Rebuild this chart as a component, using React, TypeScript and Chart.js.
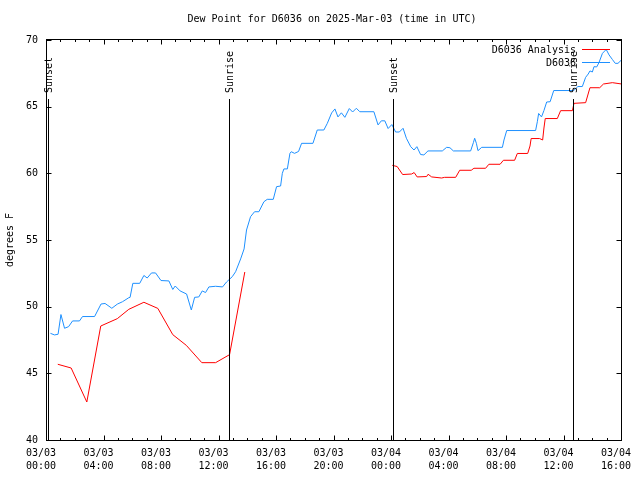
import React, { useEffect, useRef } from 'react';
import { Chart, registerables } from 'chart.js';

Chart.register(...registerables);

const FONT = "'DejaVu Sans Mono', 'Liberation Mono', monospace";

const titleText = 'Dew Point for D6036 on 2025-Mar-03 (time in UTC)';
const yAxisTitle = 'degrees F';
const xTickDates = ['03/03', '03/03', '03/03', '03/03', '03/03', '03/03', '03/04', '03/04', '03/04', '03/04', '03/04'];
const xTickTimes = ['00:00', '04:00', '08:00', '12:00', '16:00', '20:00', '00:00', '04:00', '08:00', '12:00', '16:00'];
const yTickValues = [40, 45, 50, 55, 60, 65, 70];

const sunEventHours = [0.07, 12.65, 24.09, 36.61];
const sunEventLabels = ['Sunset', 'Sunrise', 'Sunset', 'Sunrise'];

const analysisLabel = 'D6036 Analysis';
const analysisHours = [0.75, 1.68, 2.77, 3.74, 4.89, 5.69, 6.74, 7.71, 8.75, 9.69, 10.77, 11.73, 12.70, 13.76, 18,
  24.02, 24.36, 24.74, 25.37, 25.54, 25.75, 26.41, 26.51, 26.76, 27.45, 27.66, 28.43, 28.71, 29.51, 29.70, 30.51,
  30.74, 31.52, 31.75, 32.53, 32.72, 33.44, 33.60, 33.68, 34.27, 34.48, 34.57, 34.66, 35.50, 35.73, 36.55, 36.66,
  37.47, 37.77, 38.45, 38.71, 39.33, 39.98];
const analysisValues = [45.68, 45.40, 42.85, 48.55, 49.10, 49.80, 50.33, 49.87, 47.90, 47.10, 45.80, 45.80, 46.40, 52.60, null,
  60.60, 60.51, 59.91, 59.95, 60.06, 59.73, 59.76, 59.93, 59.73, 59.65, 59.70, 59.70, 60.23, 60.23, 60.38, 60.38,
  60.68, 60.68, 60.98, 60.98, 61.49, 61.49, 62.05, 62.61, 62.61, 62.50, 63.40, 64.11, 64.11, 64.70, 64.70, 65.25,
  65.30, 66.42, 66.42, 66.70, 66.80, 66.70];

const obsLabel = 'D6036';
const obsHours = [0.24, 0.52, 0.77, 0.97, 1.22, 1.50, 1.78, 2.26, 2.47, 3.31,
  3.76, 4.04, 4.51, 4.89, 5.25, 5.69, 5.78, 5.97, 6.45, 6.74,
  6.97, 7.27, 7.55, 7.93, 8.48, 8.75, 8.92, 9.26, 9.71, 10.04,
  10.27, 10.56, 10.80, 11.03, 11.26, 11.73, 12.21, 12.49, 12.89, 13.12,
  13.47, 13.71, 13.88, 14.16, 14.44, 14.74, 15.09, 15.32, 15.74, 15.97,
  16.25, 16.37, 16.48, 16.72, 16.90, 16.99, 17.22, 17.50, 17.71, 18.50,
  18.80, 19.26, 19.50, 19.80, 20.03, 20.24, 20.48, 20.72, 21.03, 21.26,
  21.52, 21.76, 22.74, 23.03, 23.26, 23.50, 23.73, 23.99, 24.25, 24.51,
  24.77, 25.00, 25.30, 25.53, 25.73, 25.99, 26.22, 26.50, 27.50, 27.80,
  28.03, 28.27, 29.47, 29.66, 29.75, 29.87, 29.98, 30.24, 31.68, 31.79,
  31.98, 33.99, 34.11, 34.20, 34.40, 34.57, 34.76, 35.00, 35.25, 36.64,
  36.93, 37.24, 37.47, 37.65, 37.77, 37.94, 38.05, 38.24, 38.40, 38.64,
  38.90, 39.10, 39.33, 39.53, 39.72, 39.96];
const obsValues = [48.00, 47.88, 47.93, 49.41, 48.38, 48.50, 48.93, 48.93, 49.26, 49.26,
  50.20, 50.24, 49.88, 50.19, 50.37, 50.67, 50.70, 51.75, 51.75, 52.34,
  52.15, 52.53, 52.53, 51.96, 51.93, 51.29, 51.55, 51.18, 50.95, 49.75,
  50.70, 50.73, 51.18, 51.06, 51.48, 51.53, 51.48, 51.85, 52.25, 52.62,
  53.58, 54.33, 55.75, 56.75, 57.12, 57.12, 57.87, 58.05, 58.05, 59.00,
  59.05, 60.00, 60.33, 60.33, 61.50, 61.62, 61.50, 61.64, 62.25, 62.25,
  63.25, 63.25, 63.75, 64.53, 64.83, 64.23, 64.54, 64.20, 64.86, 64.60,
  64.88, 64.62, 64.62, 63.63, 63.94, 63.94, 63.36, 63.66, 63.10, 63.10,
  63.38, 62.63, 62.00, 61.75, 62.00, 61.41, 61.38, 61.68, 61.68, 61.95,
  61.92, 61.68, 61.68, 62.30, 62.63, 62.25, 61.70, 61.95, 61.95, 62.50,
  63.21, 63.21, 63.87, 64.49, 64.23, 64.71, 65.35, 65.37, 66.21, 66.21,
  66.51, 66.51, 67.20, 67.45, 67.68, 67.60, 68.00, 67.98, 68.31, 69.00,
  69.29, 68.88, 68.54, 68.25, 68.25, 68.50];

const ANALYSIS_COLOR = '#ff0000';
const OBS_COLOR = '#1e90ff';

const overlayPlugin = {
  id: 'gnuplotOverlay',
  afterDraw(chart: any) {
    const { ctx, chartArea: ca, scales } = chart;
    const xs = scales.x;
    const ys = scales.y;
    const L = Math.round(ca.left) - 0.5;
    const R = Math.round(ca.right) - 0.5;
    const T = Math.round(ca.top) - 0.5;
    const B = Math.round(ca.bottom) + 0.5;
    ctx.save();
    ctx.strokeStyle = '#000';
    ctx.lineWidth = 1;
    // border
    ctx.strokeRect(L, T, R - L, B - T);
    // x ticks (inward, mirrored)
    ctx.beginPath();
    for (let h = 0; h <= 40; h++) {
      const px = Math.round(xs.getPixelForValue(h)) - 0.5;
      const len = h % 4 === 0 ? 5 : 2.5;
      ctx.moveTo(px, B);
      ctx.lineTo(px, B - len);
      ctx.moveTo(px, T);
      ctx.lineTo(px, T + len);
    }
    // y ticks
    yTickValues.forEach((v) => {
      const py = Math.round(ys.getPixelForValue(v)) + 0.5;
      ctx.moveTo(L, py);
      ctx.lineTo(L + 5, py);
      ctx.moveTo(R, py);
      ctx.lineTo(R - 5, py);
    });
    ctx.stroke();

    ctx.fillStyle = '#000';
    ctx.font = `10px ${FONT}`;
    // sun events
    sunEventHours.forEach((h, i) => {
      const px = Math.round(xs.getPixelForValue(h)) + 0.5;
      ctx.beginPath();
      ctx.moveTo(px, 99);
      ctx.lineTo(px, B);
      ctx.stroke();
      ctx.save();
      ctx.translate(px + 0.5, 93);
      ctx.rotate(-Math.PI / 2);
      ctx.textAlign = 'left';
      ctx.textBaseline = 'middle';
      ctx.fillText(sunEventLabels[i], 0, 0);
      ctx.restore();
    });

    // legend
    const legendRows = [
      { label: analysisLabel, color: ANALYSIS_COLOR, y: 49.5 },
      { label: obsLabel, color: OBS_COLOR, y: 62.5 },
    ];
    legendRows.forEach((r) => {
      ctx.textAlign = 'right';
      ctx.textBaseline = 'middle';
      ctx.fillStyle = '#000';
      ctx.fillText(r.label, 576, r.y + 0.5);
      ctx.strokeStyle = r.color;
      ctx.beginPath();
      ctx.moveTo(582, r.y);
      ctx.lineTo(610, r.y);
      ctx.stroke();
    });

    // title
    ctx.fillStyle = '#000';
    ctx.textAlign = 'center';
    ctx.textBaseline = 'middle';
    ctx.fillText(titleText, 332, 19);

    // y axis title
    ctx.save();
    ctx.translate(10, 240);
    ctx.rotate(-Math.PI / 2);
    ctx.fillText(yAxisTitle, 0, 0);
    ctx.restore();

    ctx.restore();
  },
};

export default function App() {
  const canvasRef = useRef<HTMLCanvasElement | null>(null);

  useEffect(() => {
    if (!canvasRef.current) return;
    const tickFont = { family: FONT, size: 10, lineHeight: 1.3 };
    const chart = new Chart(canvasRef.current, {
      type: 'line',
      data: {
        datasets: [
          {
            label: analysisLabel,
            data: analysisHours.map((h, i) => ({ x: h, y: analysisValues[i] })),
            borderColor: ANALYSIS_COLOR,
            backgroundColor: ANALYSIS_COLOR,
            borderWidth: 1,
            pointRadius: 0,
            tension: 0,
            fill: false,
            spanGaps: false,
          },
          {
            label: obsLabel,
            data: obsHours.map((h, i) => ({ x: h, y: obsValues[i] })),
            borderColor: OBS_COLOR,
            backgroundColor: OBS_COLOR,
            borderWidth: 1,
            pointRadius: 0,
            tension: 0,
            fill: false,
          },
        ],
      } as any,
      options: {
        responsive: false,
        animation: false,
        devicePixelRatio: 1,
        layout: { padding: { top: 40, right: 18, left: 0, bottom: 0 } },
        plugins: {
          legend: { display: false },
          title: { display: false },
          tooltip: { enabled: false },
        },
        scales: {
          x: {
            type: 'linear',
            min: 0,
            max: 40,
            grid: { display: false, drawTicks: false },
            border: { display: false },
            ticks: {
              stepSize: 4,
              autoSkip: false,
              maxRotation: 0,
              minRotation: 0,
              padding: 7,
              labelOffset: -6,
              color: '#000',
              font: tickFont,
              callback: (v: any) => {
                const i = Math.round(Number(v) / 4);
                return [xTickDates[i], xTickTimes[i]];
              },
            },
            afterFit: (s: any) => {
              s.height = 40;
              s.paddingLeft = 0;
              s.paddingRight = 0;
            },
          },
          y: {
            type: 'linear',
            min: 40,
            max: 70,
            grid: { display: false, drawTicks: false },
            border: { display: false },
            ticks: {
              stepSize: 5,
              padding: 9,
              color: '#000',
              font: tickFont,
              callback: (v: any) => String(v),
            },
            afterFit: (s: any) => {
              s.width = 47;
              s.paddingTop = 0;
              s.paddingBottom = 0;
            },
          },
        },
      } as any,
      plugins: [overlayPlugin],
    });
    return () => chart.destroy();
  }, []);

  return (
    <div style={{ position: 'fixed', left: 0, top: 0, width: 640, height: 480, background: '#fff' }}>
      <canvas ref={canvasRef} width={640} height={480} style={{ display: 'block' }} />
    </div>
  );
}
